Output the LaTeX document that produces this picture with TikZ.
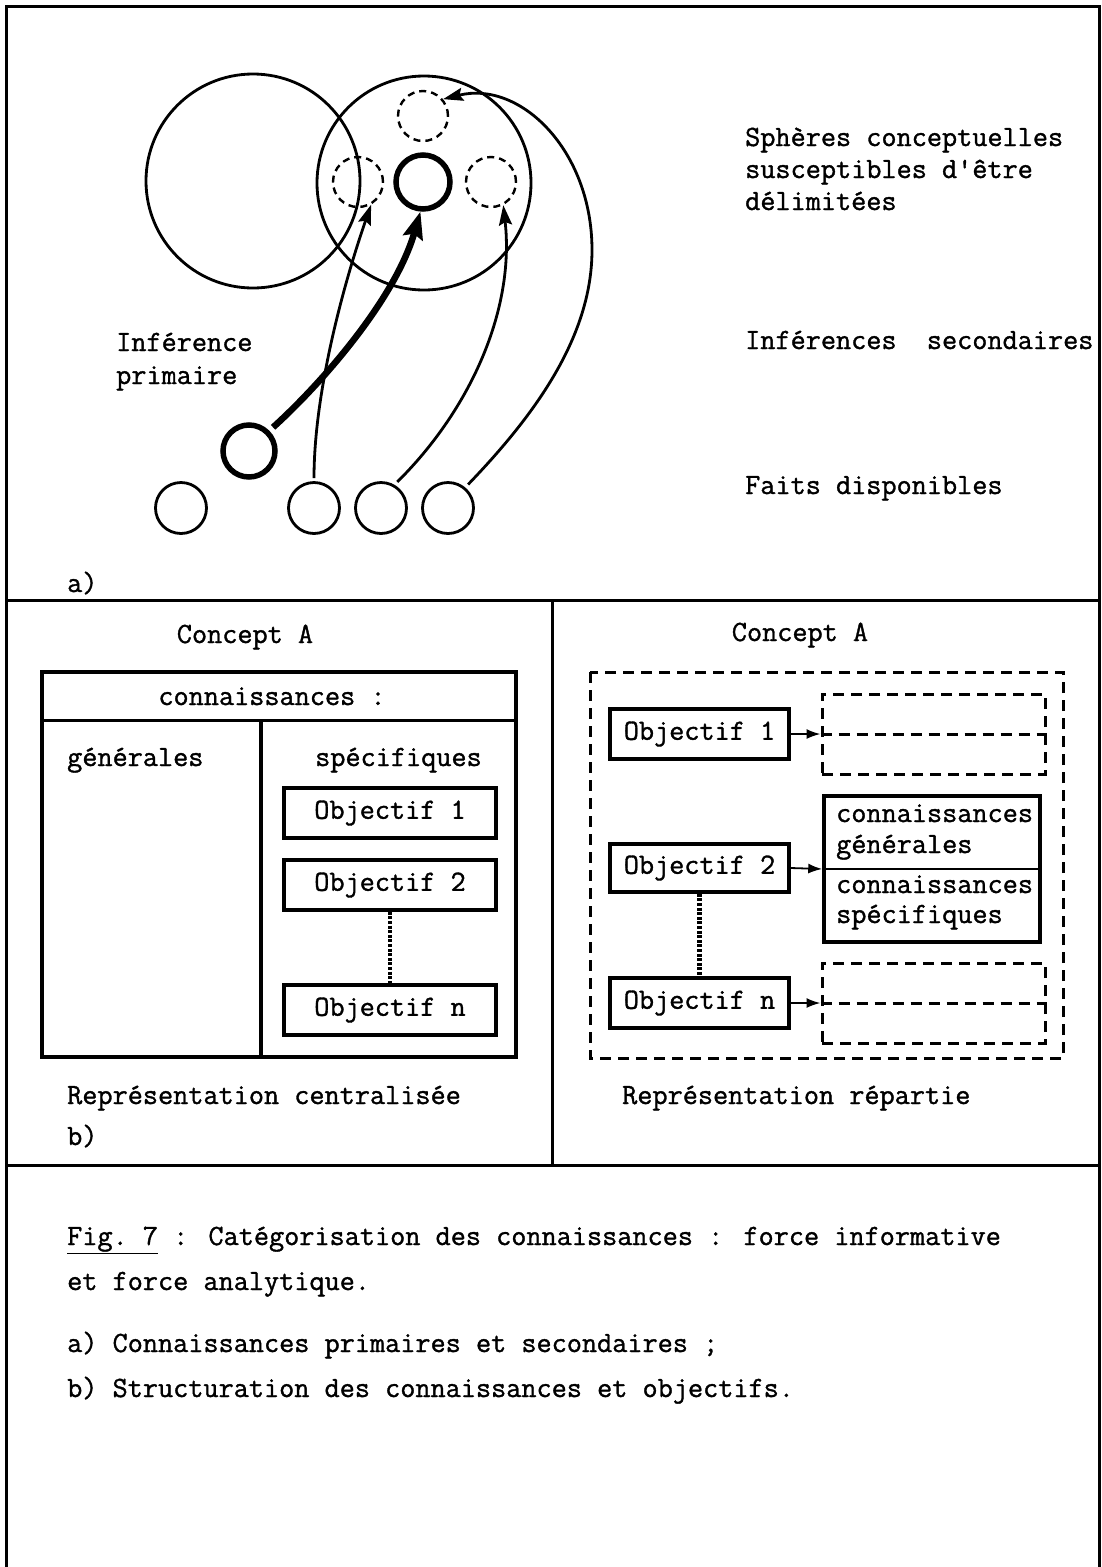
\documentclass[tikz,border=0pt]{standalone}
\usepackage{fontspec}
\newfontfamily\twfont[FakeBold=1.2]{Latin Modern Mono}
\usetikzlibrary{arrows.meta}
\begin{document}
\begin{tikzpicture}[x=1pt,y=-1pt,
  txt/.style={font=\twfont\fontsize{29.4pt}{32pt}\selectfont, inner sep=0pt, anchor=base west},
  ctxt/.style={txt, anchor=base},
  frame/.style={line width=3pt},
  bigc/.style={circle, draw, line width=2.8pt, inner sep=0pt, minimum size=214pt},
  smallc/.style={circle, draw, line width=2.8pt, inner sep=0pt, minimum size=51pt},
  thickc/.style={circle, draw, line width=5.5pt, inner sep=0pt, minimum size=52pt},
  dashc/.style={circle, draw, line width=2.4pt, dash pattern=on 7pt off 5pt, inner sep=0pt, minimum size=50pt},
  arr/.style={line width=2.8pt, -{Stealth[length=20pt,width=13pt,inset=3pt]}},
  thickarr/.style={line width=6.5pt, -{Stealth[length=27pt,width=20pt,inset=4pt]}},
  obox/.style={draw, line width=3.5pt, inner sep=0pt, font=\twfont\fontsize{29.4pt}{32pt}\selectfont},
  dbox/.style={draw, line width=3pt, dash pattern=on 11pt off 7pt, inner sep=0pt},
  smallarr/.style={line width=1.8pt, -{Latex[length=14pt,width=10pt]}},
  chain/.style={line width=4.5pt, dash pattern=on 3pt off 1.6pt}
]
\useasboundingbox (0,0) rectangle (1102,1567);

% frame
\draw[frame] (6,1567) -- (6,6) -- (1099,6) -- (1099,1567);
\draw[frame] (6,600) -- (1099,600);
\draw[frame] (552,600) -- (552,1165);
\draw[frame] (6,1165) -- (1099,1165);

% ---------- part a ----------
\node[bigc] (S1) at (253,181) {};
\node[bigc] (S2) at (424,183) {};
\node[dashc] (D1) at (423,116) {};
\node[dashc] (D2) at (358,182) {};
\node[thickc, minimum size=54pt] (P) at (423,182) {};
\node[dashc] (D3) at (491,182) {};

\node[thickc] (Q) at (249,451) {};
\node[smallc] (F1) at (181,508) {};
\node[smallc] (F2) at (314,508) {};
\node[smallc] (F3) at (381,508) {};
\node[smallc] (F4) at (448,508) {};

\draw[thickarr, shorten <=5pt] (Q.45) .. controls (320,385) and (395,300) .. (P.-95);
\draw[arr, shorten <=3pt] (F2.north) .. controls (314,390) and (345,280) .. (D2.-60);
\draw[arr, shorten <=4pt] (F3.60) .. controls (470,410) and (515,310) .. (D3.-62);
\draw[arr, shorten <=4pt] (F4.50) .. controls (530,420) and (592,340) .. (592,250)
   .. controls (592,150) and (520,80) .. (D1.40);

\node[txt] (ta1) at (745,146) {Sphères conceptuelles};
\node[txt] (ta2) at (745,178) {susceptibles d'être};
\node[txt] (ta3) at (745,210) {délimitées};
\node[txt] (ta4) at (745,349) {Inférences\ \ secondaires};
\node[txt] (ta5) at (745,494) {Faits disponibles};
\node[txt] (ta6) at (116,351) {Inférence};
\node[txt] (ta7) at (116,384) {primaire};
\node[txt] (ta8) at (67,592) {a)};

% ---------- part b, left ----------
\node[ctxt] (cA1) at (245,643) {Concept A};
\draw[line width=3.5pt] (42,672) rectangle (516,1057);
\draw[line width=3pt] (42,720) -- (516,720);
\draw[line width=3.5pt] (261,720) -- (261,1057);
\node[ctxt] (conn) at (272,705) {connaissances :};
\node[txt] (gen) at (67,766) {générales};
\node[txt] (spe) at (315,766) {spécifiques};
\node[obox, minimum width=212pt, minimum height=50pt] (LO1) at (390,813) {Objectif 1};
\node[obox, minimum width=212pt, minimum height=50pt] (LO2) at (390,885) {Objectif 2};
\node[obox, minimum width=212pt, minimum height=50pt] (LON) at (390,1010) {Objectif n};
\draw[chain] (LO2.south) -- (LON.north);
\node[txt] (rc) at (67,1104) {Représentation centralisée};
\node[txt] (lb) at (67,1145) {b)};

% ---------- part b, right ----------
\node[ctxt] (cA2) at (800,641) {Concept A};
\draw[dbox] (590,672) rectangle (1063,1058);
\node[obox, minimum width=179pt, minimum height=50pt] (RO1) at (699.5,734) {Objectif 1};
\node[obox, minimum width=179pt, minimum height=48pt] (RO2) at (699.5,868) {Objectif 2};
\node[obox, minimum width=179pt, minimum height=50pt] (RON) at (699.5,1003) {Objectif n};
\node[dbox, minimum width=223pt, minimum height=80pt] (DT) at (933.5,734) {};
\draw[dbox] (DT.west) -- (DT.east);
\node[dbox, minimum width=223pt, minimum height=80pt] (DB) at (933.5,1003) {};
\draw[dbox] (DB.west) -- (DB.east);
\node[draw, line width=3.5pt, inner sep=0pt, minimum width=216pt, minimum height=146pt] (CK) at (932,869) {};
\draw[line width=2.5pt] (CK.west) -- (CK.east);
\node[txt] (ck1) at (836,822) {connaissances};
\node[txt] (ck2) at (836,853) {générales};
\node[txt] (ck3) at (836,893) {connaissances};
\node[txt] (ck4) at (836,923) {spécifiques};
\draw[smallarr] (RO1.east) -- (DT.west);
\draw[smallarr] (RO2.east) -- (CK.west);
\draw[smallarr] (RON.east) -- (DB.west);
\draw[chain] (RO2.south) -- (RON.north);
\node[txt] (rr) at (622,1104) {Représentation répartie};

% ---------- caption ----------
\node[txt] (c1) at (67,1245) {\underline{Fig.~7} : Catégorisation des connaissances : force informative};
\node[txt] (c2) at (67,1290) {et force analytique.};
\node[txt] (c3) at (67,1352) {a) Connaissances primaires et secondaires ;};
\node[txt] (c4) at (67,1397) {b) Structuration des connaissances et objectifs.};
\end{tikzpicture}
\end{document}
